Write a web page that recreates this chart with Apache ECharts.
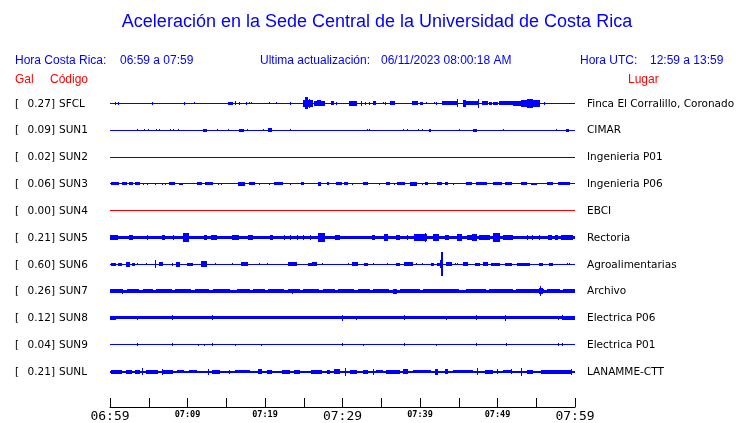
<!DOCTYPE html>
<html><head><meta charset="utf-8">
<script src="https://cdn.jsdelivr.net/npm/echarts@6/dist/echarts.min.js"></script>
<style>html,body{margin:0;padding:0;background:#fff}#c{width:740px;height:423px}</style>
</head><body><div id="c"></div>
<script>
// ---- data ----
const codes = ['SFCL','SUN1','SUN2','SUN3','SUN4','SUN5','SUN6','SUN7','SUN8','SUN9','SUNL'];
const galValues = [0.27,0.09,0.02,0.06,0.00,0.21,0.60,0.26,0.12,0.04,0.21];
const places = ['Finca El Corralillo, Coronado','CIMAR','Ingenieria P01','Ingenieria P06','EBCI','Rectoria','Agroalimentarias','Archivo','Electrica P06','Electrica P01','LANAMME-CTT'];
const baseAmp = [0.5,0.5,0.5,0.5,0.5,2,0.5,1.5,1.5,0.5,1];
const traceColors = ['#0000ff','#0000ff','#0000ff','#0000ff','#ff0000','#0000ff','#0000ff','#0000ff','#0000ff','#0000ff','#0000ff'];
const tickMinutes = [0,10,20,30,40,50,60];
const tickLabels = ['06:59','07:09','07:19','07:29','07:39','07:49','07:59'];
const bigTickLabels = ['06:59','07:29','07:59'];
// events: [minute, amp] or [minuteStart, minuteEnd, amp]
const evSFCL = [[0.77,1.5],[1.16,1.5],[5.42,1.5],[9.55,1.5],[10.84,1],[15.23,15.87,1.5],[16.13,2],[16.77,1.5],[17.55,1.5],[17.94,1],[18.32,1],[20.52,1],[21.42,1],[23.35,1.5],
 [25.03,26.19,3.5],[25.29,25.55,6],[25.68,25.81,4.5],[26.45,27.74,2.5],[26.71,27.23,3],[28.52,28.9,2],[29.29,1.5],[30.84,31.87,2.5],[32.39,2.5],[33.03,1.5],[33.42,1.5],[33.94,34.32,2],[35.23,1],[35.61,1.5],[36.13,36.77,2],[39.0,39.74,2],[40.0,40.39,1.5],[40.9,1],[41.81,1],[42.19,1.5],[42.84,44.77,2],[44.9,4],[45.55,45.94,3.5],[46.06,47.48,2],[47.61,4.5],[48.0,48.77,2],[49.03,49.29,1.5],[49.42,50.06,1.5],[50.32,52.0,2],[52.0,53.16,2.5],[53.16,55.48,3.5],[53.81,54.58,4.5],[56.0,1.5]];
const evSUN1 = [[3.61,1],[4.39,1],[5.03,1],[6.06,1],[6.45,1],[7.87,1],[8.13,1],[8.9,1],[12.0,12.52,1.5],[13.81,1],[15.35,1],[16.77,17.29,1.5],[17.68,1],[19.87,1],[20.39,20.9,2],[23.23,1],[33.29,1],[33.42,1],[37.81,1],[38.45,1],[39.87,1],[40.26,1],[41.29,41.42,1.5],[45.16,1],[46.84,47.35,1.5],[50.71,1],[57.55,1],[58.84,59.23,1.5]];
const evSUN2 = [];
const evSUN3 = [[0.13,1.16,1.5],[1.55,2.19,1.5],[2.58,2.97,1.5],[3.23,3.87,1.5],[4.26,1],[4.9,1],[5.81,1],[6.71,1],[7.1,1],[7.74,8.39,1.5],[9.03,9.42,1],[11.23,11.87,1.5],[12.26,13.29,1.5],[13.94,1],[14.45,1],[16.52,17.42,2],[18.06,18.71,1.5],[19.35,1],[20.52,1],[21.29,22.32,1.5],[23.35,1],[24.77,25.03,1.5],[26.84,27.23,2],[28.0,28.26,1.5],[29.29,29.94,1.5],[30.32,30.71,1.5],[31.35,1],[32.65,33.29,1.5],[34.71,1],[35.74,36.13,1.5],[36.77,1],[37.16,38.06,1.5],[38.71,39.61,2],[40.26,1],[40.65,41.03,1.5],[42.32,42.84,1.5],[43.23,43.61,1.5],[44.26,1],[46.06,46.71,1.5],[47.35,47.74,1.5],[47.74,48.65,1.5],[49.42,50.58,1.5],[50.97,51.87,1.5],[53.16,53.81,1.5],[54.45,55.1,1],[56.39,57.16,1.5],[57.81,59.35,1.5]];
const evSUN4 = [];
const evSUN5 = [[0,1.03,3],[2.58,2.97,3],[4.9,3],[6.71,7.1,3],[8.13,3],[9.42,10.19,4.5],[12.13,12.52,3],[13.16,13.81,3],[15.87,16.65,3],[17.81,18.45,3],[20.77,21.03,3],[22.58,3],[23.23,3],[24.13,3],[25.03,3],[25.81,3],[26.84,27.74,4.5],[29.16,29.68,3],[33.81,34.19,3],[35.48,35.87,4],[37.03,37.42,3],[38.45,3],[39.35,40.9,3.5],[40.65,4.5],[41.68,42.45,3.5],[43.35,43.74,3],[44.9,45.42,3.5],[46.19,46.84,2.5],[46.71,47.35,3.5],[47.74,49.03,3],[49.42,50.32,4.5],[49.9,50.06,5],[50.71,52.0,3],[53.81,3],[54.58,3],[55.48,3],[56.52,57.03,3],[57.42,57.81,3],[58.32,59.74,3]];
const evSUN6 = [[0.13,0.77,1.5],[1.16,1.55,1.5],[2.19,2.58,2.5],[2.84,3.23,1.5],[3.61,1],[4.77,1],[5.81,4],[6.45,6.84,2],[8.0,8.13,1.5],[8.52,9.03,2.5],[10.06,10.71,1.5],[11.87,12.52,3],[13.55,1],[15.87,1],[17.03,17.81,2],[19.35,1],[20.26,1],[22.97,24.13,2],[25.55,26.06,1.5],[26.19,26.71,2],[27.48,1],[30.71,1],[31.35,32.0,2],[32.9,33.29,1.5],[33.94,1],[35.87,1],[37.03,37.42,1.5],[37.94,39.1,2],[39.61,1],[40.26,1],[41.42,41.81,1.5],[42.32,42.71,1.5],[42.6,43.0,4],[42.71,42.97,12],[43.48,44.13,2],[44.52,1],[44.9,1],[45.55,46.19,2],[47.1,47.74,1.5],[48.13,48.77,2],[49.29,50.32,1.5],[50.97,51.87,1.5],[52.52,54.19,1.5],[55.48,55.87,1.5],[56.77,57.16,1.5],[58.97,1],[59.35,1]];
const evSUN7 = [[0,1.5,2],[1.55,2.5],[2.2,3.8,2],[4.3,5.5,2],[6.0,8.0,2],[8.5,10.5,2],[11.0,12.8,2],[13.3,15.5,2],[16.5,18.0,2],[18.5,20.0,2],[20.5,22.5,2],[23.0,24.5,2],[23.61,2.5],[25.0,27.0,2],[27.5,29.0,2],[29.5,31.5,2],[32.0,33.5,2],[34.0,36.0,2],[36.52,37.03,2.5],[37.5,40.0,2],[40.5,45.0,2],[46.0,48.5,2],[49.0,52.0,2],[52.5,56.0,2],[55.48,55.87,3],[55.61,5],[56.5,58.0,2],[58.5,60,2]];
const evSUN8 = [[0,0.77,2],[3.61,2],[8.0,2.5],[9.29,1.5],[13.29,2.5],[29.94,3],[31.87,2],[34.06,1.5],[37.94,2.5],[43.48,2],[47.23,2.5],[50.97,3],[57.81,2],[58.45,2.5],[58.45,60,2]];
const evSUN9 = [[3.61,1.5],[8.0,1.5],[11.48,1],[12.13,1],[13.29,1.5],[16.13,1],[19.61,1],[29.94,1.5],[32.65,1],[37.94,1.5],[42.19,1],[47.23,1.5],[51.1,1.5],[57.81,1.5],[58.45,1.5]];
const evSUNL = [[0.13,1.55,2],[2.19,2.84,2],[3.23,3.87,2],[4.13,4.26,3.5],[4.77,6.19,2],[6.71,3],[6.84,8.13,2],[8.77,9.5,1.5],[10.2,11.2,1.5],[12.65,3],[13.29,14.19,2],[15.48,2],[16.13,18.06,1.5],[19.1,19.61,2.5],[20.26,20.9,2],[22.32,23.23,2],[23.87,24.52,2],[26.06,27.35,2],[28.0,28.39,2],[29.03,29.68,2.5],[30.45,4],[30.97,31.87,2],[32.65,33.29,2],[33.94,3],[34.45,35.23,1.5],[35.74,37.42,2],[37.81,38.45,2.5],[39.1,41.42,1.5],[41.94,42.32,3],[43.35,43.61,2.5],[44.26,46.84,1.5],[47.48,3.5],[48.39,49.42,2],[50.06,2.5],[50.71,51.87,1.5],[51.87,2.5],[53.16,4],[53.81,54.58,2],[55.74,59.61,2],[59.61,3]];
const eventLists = [evSFCL,evSUN1,evSUN2,evSUN3,evSUN4,evSUN5,evSUN6,evSUN7,evSUN8,evSUN9,evSUNL];
const ampUnitsPerRow = 27;

// ---- build ----
const items = [];
codes.forEach((c, i) => {
  items.push([0, 60, baseAmp[i], i]);
  eventLists[i].forEach(e => {
    if (e.length === 2) items.push([e[0], e[0], e[1], i]);
    else items.push([e[0], e[1], e[2], i]);
  });
});

const chart = echarts.init(document.getElementById('c'), null, {renderer: 'canvas'});
const BLUE = '#0000ff', RED = '#ff0000';
const hdrFont = 'Liberation Sans, Arial, sans-serif';

chart.setOption({
  animation: false,
  grid: {left: 110, right: 165, top: 90, height: 297},
  xAxis: {
    type: 'value', min: 0, max: 60, interval: 5, offset: 22,
    axisLine: {show: true, lineStyle: {color: '#000', width: 1}},
    axisTick: {show: true, inside: true, length: 9, lineStyle: {color: '#000'}},
    splitLine: {show: false},
    axisLabel: {
      margin: 2, showMinLabel: true, showMaxLabel: true,
      formatter: v => {
        const k = tickMinutes.indexOf(v);
        if (k < 0) return '';
        const t = tickLabels[k];
        return bigTickLabels.indexOf(t) >= 0 ? '{b|' + t + '}' : '{s|' + t + '}';
      },
      rich: {
        b: {fontFamily: 'DejaVu Sans Mono', fontSize: 13, color: '#000', padding: [1,0,0,0]},
        s: {fontFamily: 'DejaVu Sans Mono', fontSize: 8.5, fontWeight: 'bold', color: '#000', padding: [1,0,0,0]}
      }
    }
  },
  yAxis: {
    type: 'category', data: codes, inverse: true,
    axisLine: {show: false}, axisTick: {show: false}, axisLabel: {show: false}, splitLine: {show: false}
  },
  series: [{
    type: 'custom',
    data: items,
    encode: {x: [0, 1], y: 3},
    renderItem: (params, api) => {
      const r = api.value(3);
      const p0 = api.coord([api.value(0), r]);
      const p1 = api.coord([api.value(1), r]);
      const unit = api.size([0, 1])[1] / ampUnitsPerRow;
      const a = api.value(2) * unit;
      const x0 = Math.floor(p0[0]);
      const x1 = Math.max(x0 + 1, Math.round(p1[0]));
      const y0 = Math.round(p0[1] - a);
      const y1 = Math.max(y0 + 1, Math.round(p0[1] + a));
      return {type: 'rect', shape: {x: x0, y: y0, width: x1 - x0, height: y1 - y0},
              style: {fill: traceColors[r]}};
    }
  }]
});

// ---- texts ----
const g = [];
function txt(x, y, s, opt) {
  g.push({type: 'text', x: x, y: y, style: Object.assign({text: s, fill: BLUE, font: '12px ' + hdrFont, textAlign: 'left', textVerticalAlign: 'middle'}, opt || {})});
}
txt(377, 22, 'Aceleración en la Sede Central de la Universidad de Costa Rica', {font: '18px ' + hdrFont, textAlign: 'center'});
txt(15, 61, 'Hora Costa Rica:');
txt(120, 61, '06:59 a 07:59');
txt(260, 61, 'Ultima actualización:');
txt(381, 61, '06/11/2023 08:00:18 AM');
txt(580, 61, 'Hora UTC:');
txt(650, 61, '12:59 a 13:59');
txt(15, 80, 'Gal', {fill: RED});
txt(50, 80, 'Código', {fill: RED});
txt(628, 80, 'Lugar', {fill: RED});
const lblFont = '10.5px DejaVu Sans, sans-serif';
codes.forEach((c, i) => {
  const y = chart.convertToPixel({yAxisIndex: 0}, c) + 0.5;
  txt(15, y, '[', {fill: '#000', font: lblFont});
  txt(55, y, galValues[i].toFixed(2) + ']', {fill: '#000', font: lblFont, textAlign: 'right'});
  txt(59, y, c, {fill: '#000', font: lblFont});
  txt(587, y, places[i], {fill: '#000', font: lblFont});
});
chart.setOption({graphic: g});
</script></body></html>
